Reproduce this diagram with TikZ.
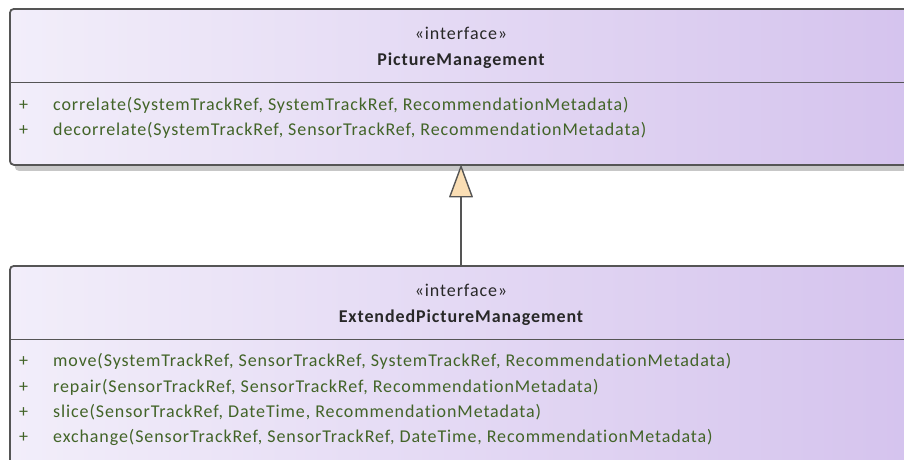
\documentclass[tikz,border=0pt]{standalone}
\usepackage{fontspec}
\setmainfont{Carlito}
\newfontfamily\umlfont[LetterSpace=5, Ligatures=NoCommon]{Carlito}
\usetikzlibrary{arrows.meta,shadows}
\definecolor{boxleft}{RGB}{242,238,250}
\definecolor{boxright}{RGB}{212,194,237}
\definecolor{boxline}{RGB}{85,85,85}
\definecolor{optext}{RGB}{66,100,40}
\definecolor{headtext}{RGB}{40,40,40}
\definecolor{tipfill}{RGB}{250,222,180}
\tikzset{
  iface/.style={draw=boxline, line width=1.8pt, rounded corners=4pt,
    left color=boxleft, right color=boxright, anchor=north west,
    minimum width=930pt, inner sep=0pt,
    drop shadow={shadow xshift=5pt, shadow yshift=-6pt, fill=black!22, opacity=1}},
  head/.style={anchor=base, inner sep=0pt, text=headtext, font=\umlfont\fontsize{18}{21}\selectfont},
  op/.style={anchor=base west, inner sep=0pt, text=optext, font=\umlfont\fontsize{18}{21}\selectfont},
}

\begin{document}
\begin{tikzpicture}[x=1pt,y=-1pt]
  \useasboundingbox (0,0) rectangle (904,459);
  \clip (0,0) rectangle (904,459);
  % the two interfaces
  \node[iface, minimum height=156pt] (pm) at (9,8) {};
  \node[iface, minimum height=220pt] (epm) at (9,265) {};
  \draw[boxline, line width=1.8pt] (9,82.5) -- ++(930,0);
  \draw[boxline, line width=1.8pt] (9,339.5) -- ++(930,0);
  % PictureManagement
  \node[head] (pmst) at (461,39.5) {«interface»};
  \node[head] (pmname) at (461,65) {\bfseries PictureManagement};
  \node[op] (pmp1) at (19,110) {+};
  \node[op] (pmo1) at (53,110) {correlate(SystemTrackRef, SystemTrackRef, RecommendationMetadata)};
  \node[op] (pmp2) at (19,135.3) {+};
  \node[op] (pmo2) at (53,135.3) {decorrelate(SystemTrackRef, SensorTrackRef, RecommendationMetadata)};
  % ExtendedPictureManagement
  \node[head] (epmst) at (461,296.3) {«interface»};
  \node[head] (epmname) at (461,322.3) {\bfseries ExtendedPictureManagement};
  \node[op] (epmp1) at (19,366.7) {+};
  \node[op] (epmo1) at (53,366.7) {move(SystemTrackRef, SensorTrackRef, SystemTrackRef, RecommendationMetadata)};
  \node[op] (epmp2) at (19,392) {+};
  \node[op] (epmo2) at (53,392) {repair(SensorTrackRef, SensorTrackRef, RecommendationMetadata)};
  \node[op] (epmp3) at (19,417.3) {+};
  \node[op] (epmo3) at (53,417.3) {slice(SensorTrackRef, DateTime, RecommendationMetadata)};
  \node[op] (epmp4) at (19,442.6) {+};
  \node[op] (epmo4) at (53,442.6) {exchange(SensorTrackRef, SensorTrackRef, DateTime, RecommendationMetadata)};
  % generalisation
  \draw[boxline, line width=1.4pt, -{Triangle[length=33pt, width=24pt, fill=tipfill, round]}]
    (epm.north -| pmst.base) -- (pm.south -| pmst.base);
\end{tikzpicture}
\end{document}
